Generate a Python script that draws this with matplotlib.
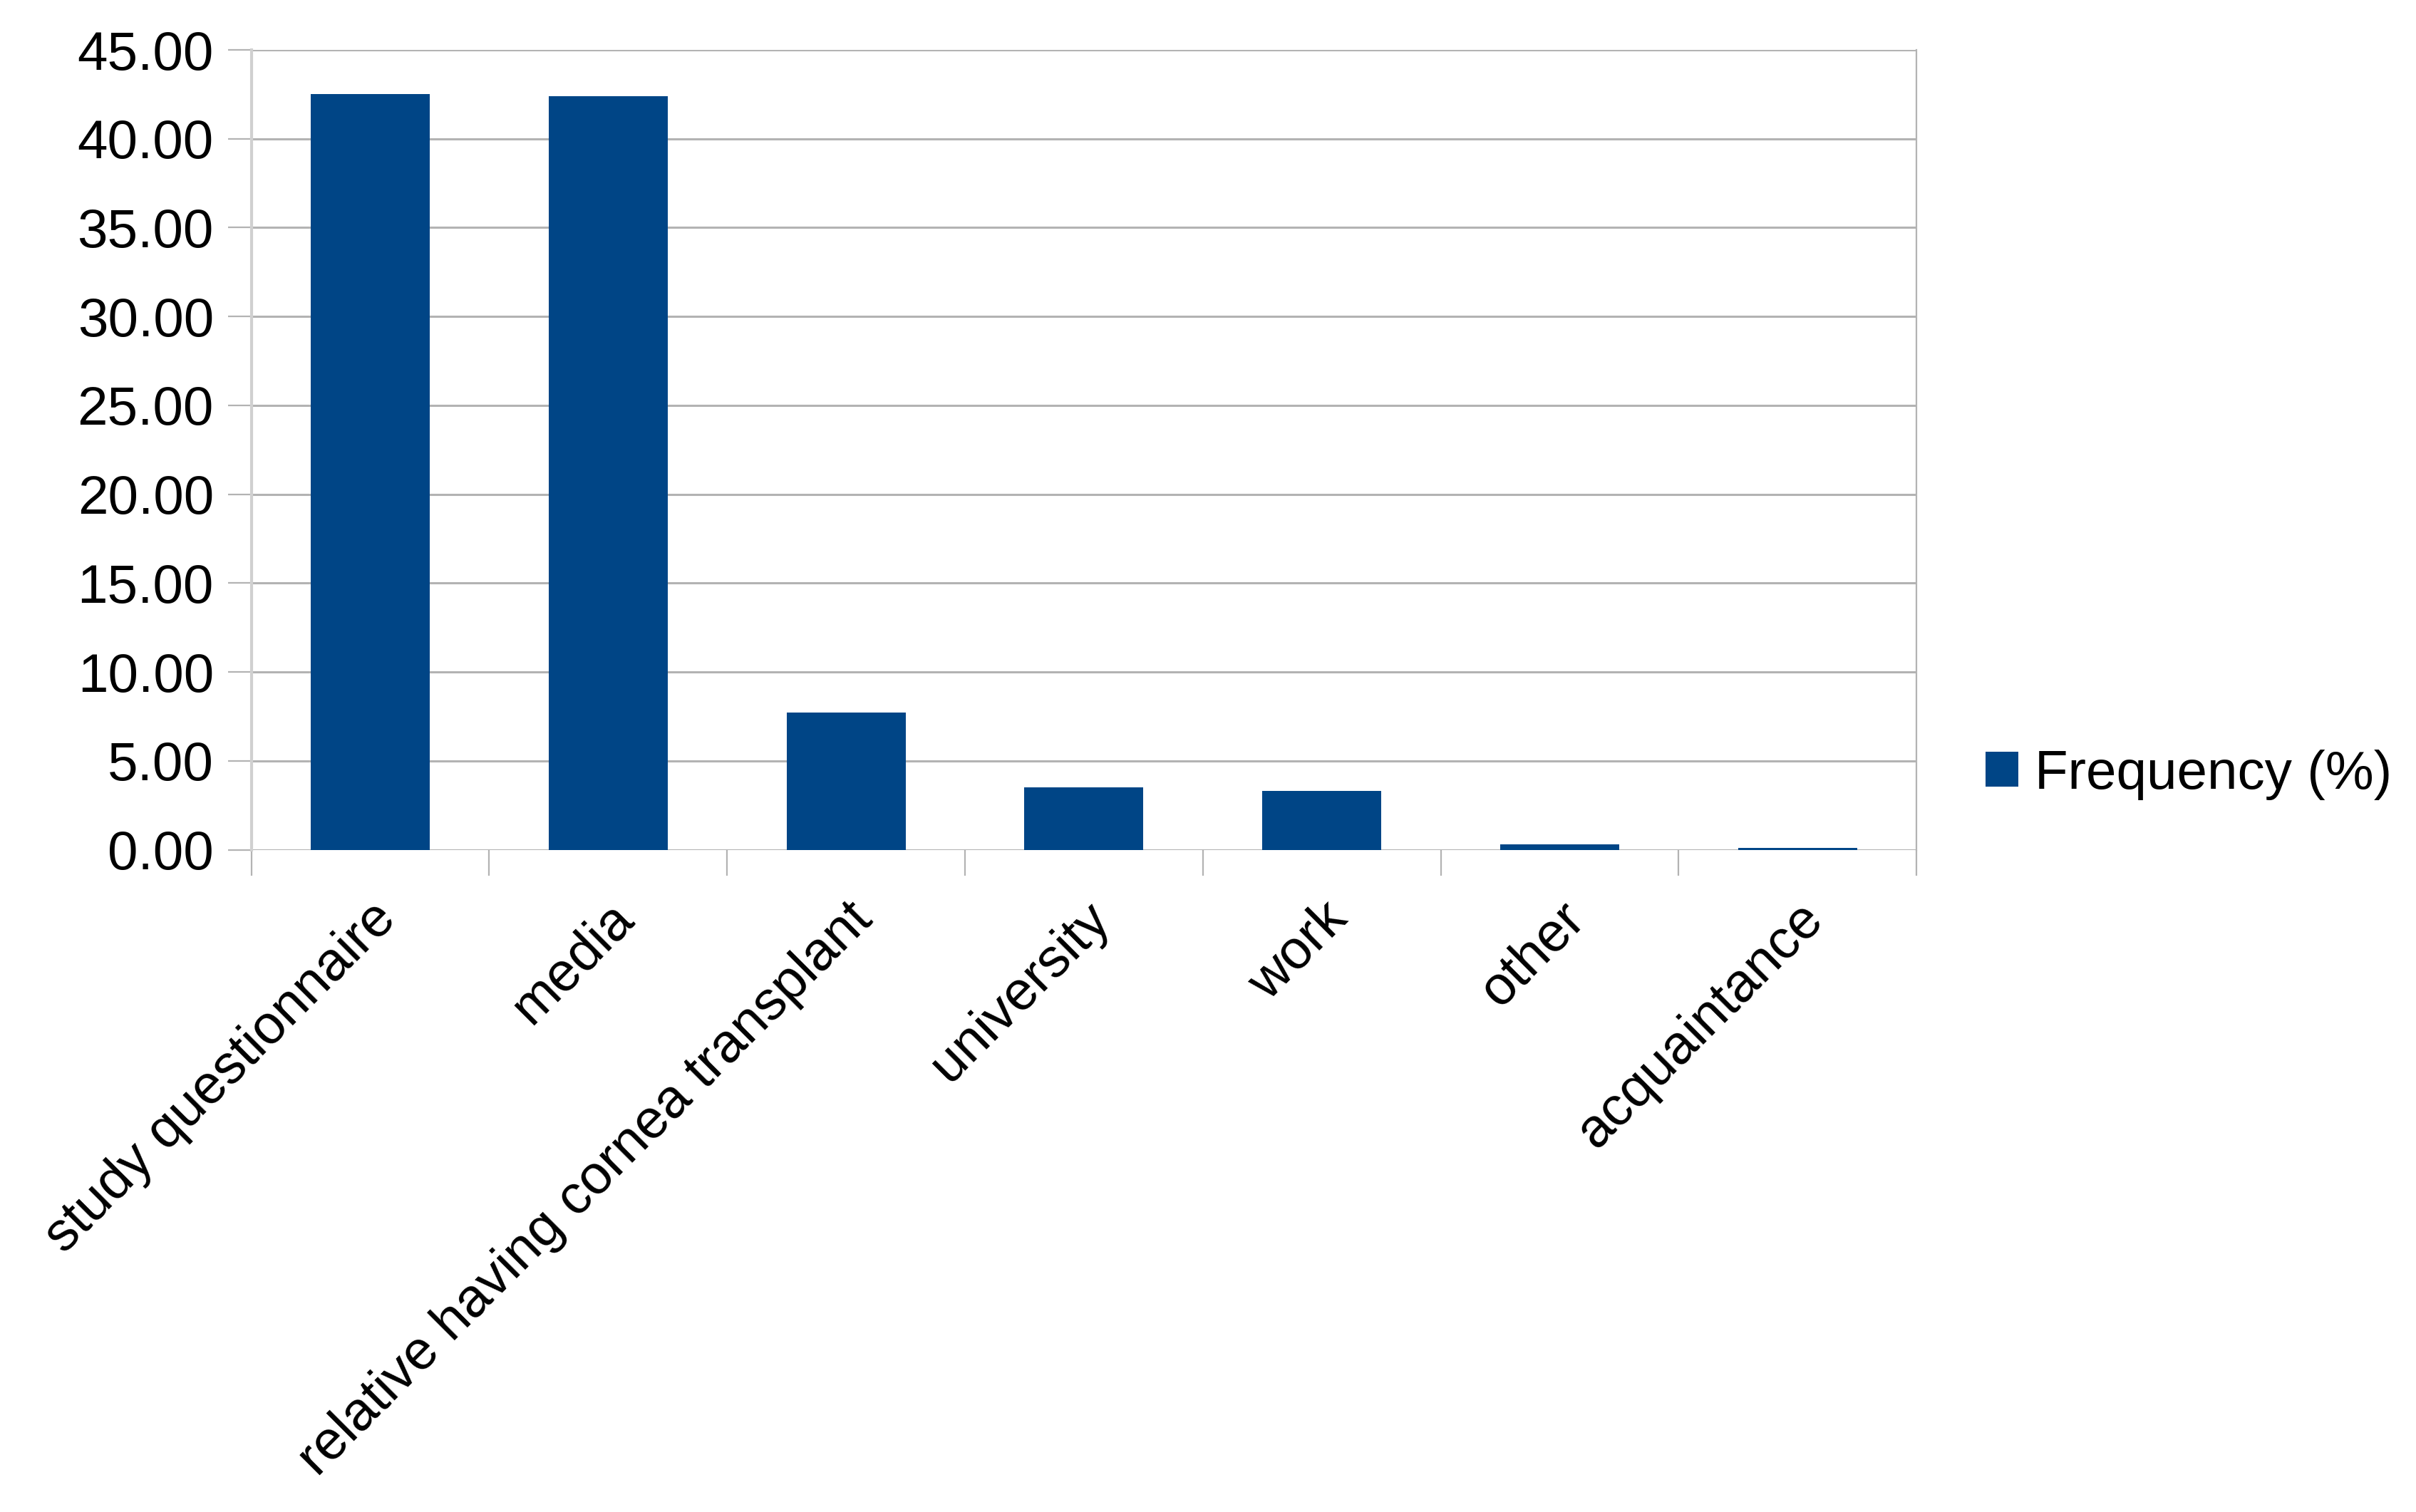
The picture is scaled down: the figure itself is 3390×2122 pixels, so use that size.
import numpy as np
import matplotlib.pyplot as plt

plt.rcParams["font.family"] = ["Liberation Sans", "DejaVu Sans"]

categories = ["study questionnaire", "media", "relative having cornea transplant",
              "university", "work", "other", "acquaintance"]
frequency = [42.5, 42.4, 7.7, 3.5, 3.3, 0.3, 0.1]
yticks = [0, 5, 10, 15, 20, 25, 30, 35, 40, 45]

grid_col = "#b3b3b3"
bar_col = "#004586"

fig = plt.figure(figsize=(33.91, 21.22), dpi=100)
ax = fig.add_axes([0.104, 0.438, 0.689, 0.529])

x = np.arange(len(categories))
ax.bar(x, frequency, width=0.5, color=bar_col, label="Frequency (%)", zorder=3)

ax.set_xlim(-0.5, len(categories) - 0.5)
ax.set_ylim(0, 45)
ax.set_yticks(yticks)
ax.set_yticklabels([f"{v:.2f}" for v in yticks])
ax.yaxis.grid(True, color=grid_col, lw=2.2, zorder=0)

# category labels at centres, tick marks at category boundaries
ax.set_xticks(x)
ax.set_xticklabels(categories, rotation=45, ha="right", va="top",
                   rotation_mode="anchor")
ax.set_xticks(np.arange(-0.5, len(categories)), minor=True)
ax.tick_params(axis="x", which="major", length=0, pad=44, labelsize=55)
ax.tick_params(axis="x", which="minor", length=26, width=1.6, color=grid_col)
ax.tick_params(axis="y", length=24, width=1.6, color=grid_col, pad=14,
               labelsize=55)

for s in ["top", "bottom"]:
    ax.spines[s].set_visible(False)
ax.spines["left"].set_color("#d0d0d0")
ax.spines["left"].set_linewidth(3)
ax.spines["right"].set_color(grid_col)
ax.spines["right"].set_linewidth(1.6)

ax.legend(loc="center left", bbox_to_anchor=(1.022, 0.094), frameon=False,
          fontsize=55, handlelength=0.6, handleheight=0.6, handletextpad=0.3,
          borderaxespad=0.2)

fig.savefig("out.png", dpi=100)
